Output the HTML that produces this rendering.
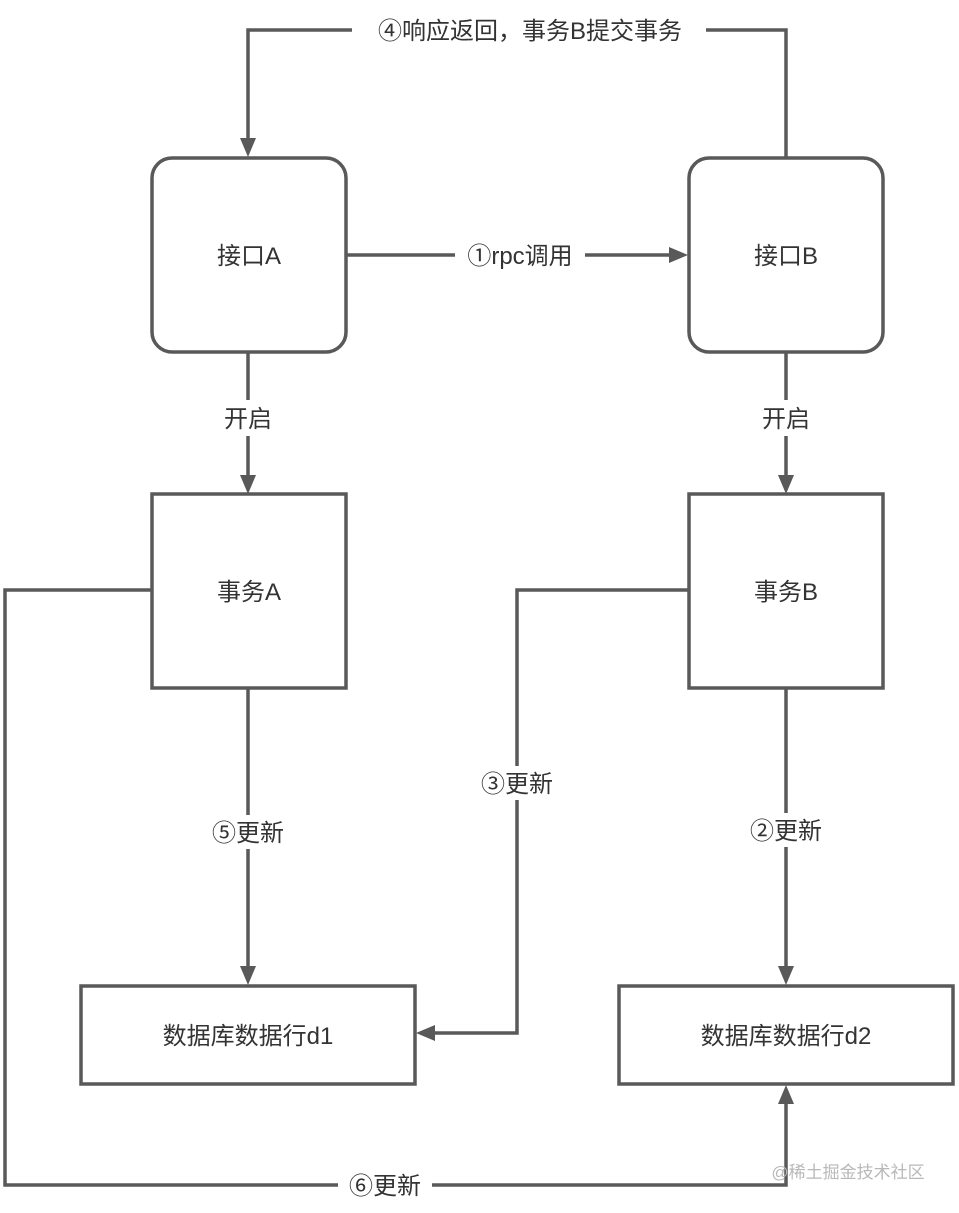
<!DOCTYPE html>
<html><head><meta charset="utf-8"><style>
html,body{margin:0;padding:0;background:#fff;}
svg{display:block;}
text{font-family:"Liberation Sans","Noto Sans CJK SC",sans-serif;font-size:24px;fill:#333;}
</style></head><body>
<svg width="959" height="1213" viewBox="0 0 959 1213" xmlns="http://www.w3.org/2000/svg">
<defs>
<marker id="ar" viewBox="0 0 10 10" refX="9" refY="5" markerWidth="6" markerHeight="6" markerUnits="userSpaceOnUse" orient="auto">
</marker>
</defs>
<g fill="none" stroke="#595959" stroke-width="3.5">
<rect x="152" y="158" width="194" height="194" rx="20"/>
<rect x="689" y="158" width="194" height="194" rx="20"/>
<rect x="152" y="494" width="194" height="194"/>
<rect x="689" y="494" width="194" height="194"/>
<rect x="81" y="986" width="334" height="98"/>
<rect x="619" y="986" width="334" height="98"/>
<!-- top loop -->
<polyline points="786,157 786,30 248,30 248,140"/>
<!-- rpc -->
<line x1="347" y1="255" x2="672" y2="255"/>
<!-- 开启 -->
<line x1="248" y1="353" x2="248" y2="477"/>
<line x1="786" y1="353" x2="786" y2="477"/>
<!-- 5 / 2 -->
<line x1="248" y1="689" x2="248" y2="968"/>
<line x1="786" y1="689" x2="786" y2="968"/>
<!-- 3 -->
<polyline points="688,590 517,590 517,1033 432,1033"/>
<!-- 6 -->
<polyline points="151,590 5,590 5,1185 786,1185 786,1102"/>
</g>
<g fill="#595959">
<polygon points="240,138 256,138 248,157"/>
<polygon points="669,247 669,263 688,255"/>
<polygon points="240,475 256,475 248,494"/>
<polygon points="778,475 794,475 786,494"/>
<polygon points="240,966 256,966 248,985"/>
<polygon points="778,966 794,966 786,985"/>
<polygon points="435,1025 435,1041 416,1033"/>
<polygon points="778,1104 794,1104 786,1085"/>
</g>
<!-- label backgrounds -->
<g fill="#fff">
<rect x="352" y="14" width="354" height="32"/>
<rect x="455" y="239" width="130" height="32"/>
<rect x="215" y="400" width="66" height="36"/>
<rect x="753" y="400" width="66" height="36"/>
<rect x="200" y="815" width="96" height="34"/>
<rect x="738" y="813" width="96" height="34"/>
<rect x="470" y="766" width="94" height="34"/>
<rect x="338" y="1168" width="94" height="34"/>
</g>
<g text-anchor="middle">
<text x="530" y="39">④响应返回，事务B提交事务</text>
<text x="520" y="264">①rpc调用</text>
<text x="249" y="264">接口A</text>
<text x="786" y="264">接口B</text>
<text x="248" y="427">开启</text>
<text x="786" y="427">开启</text>
<text x="249" y="600">事务A</text>
<text x="786" y="600">事务B</text>
<text x="248" y="841">⑤更新</text>
<text x="786" y="839">②更新</text>
<text x="517" y="792">③更新</text>
<text x="385" y="1194">⑥更新</text>
<text x="248" y="1044">数据库数据行d1</text>
<text x="786" y="1044">数据库数据行d2</text>
<text x="848" y="1178" style="font-size:17px;fill:#b8b8b8">@稀土掘金技术社区</text>
</g>
</svg>
</body></html>
